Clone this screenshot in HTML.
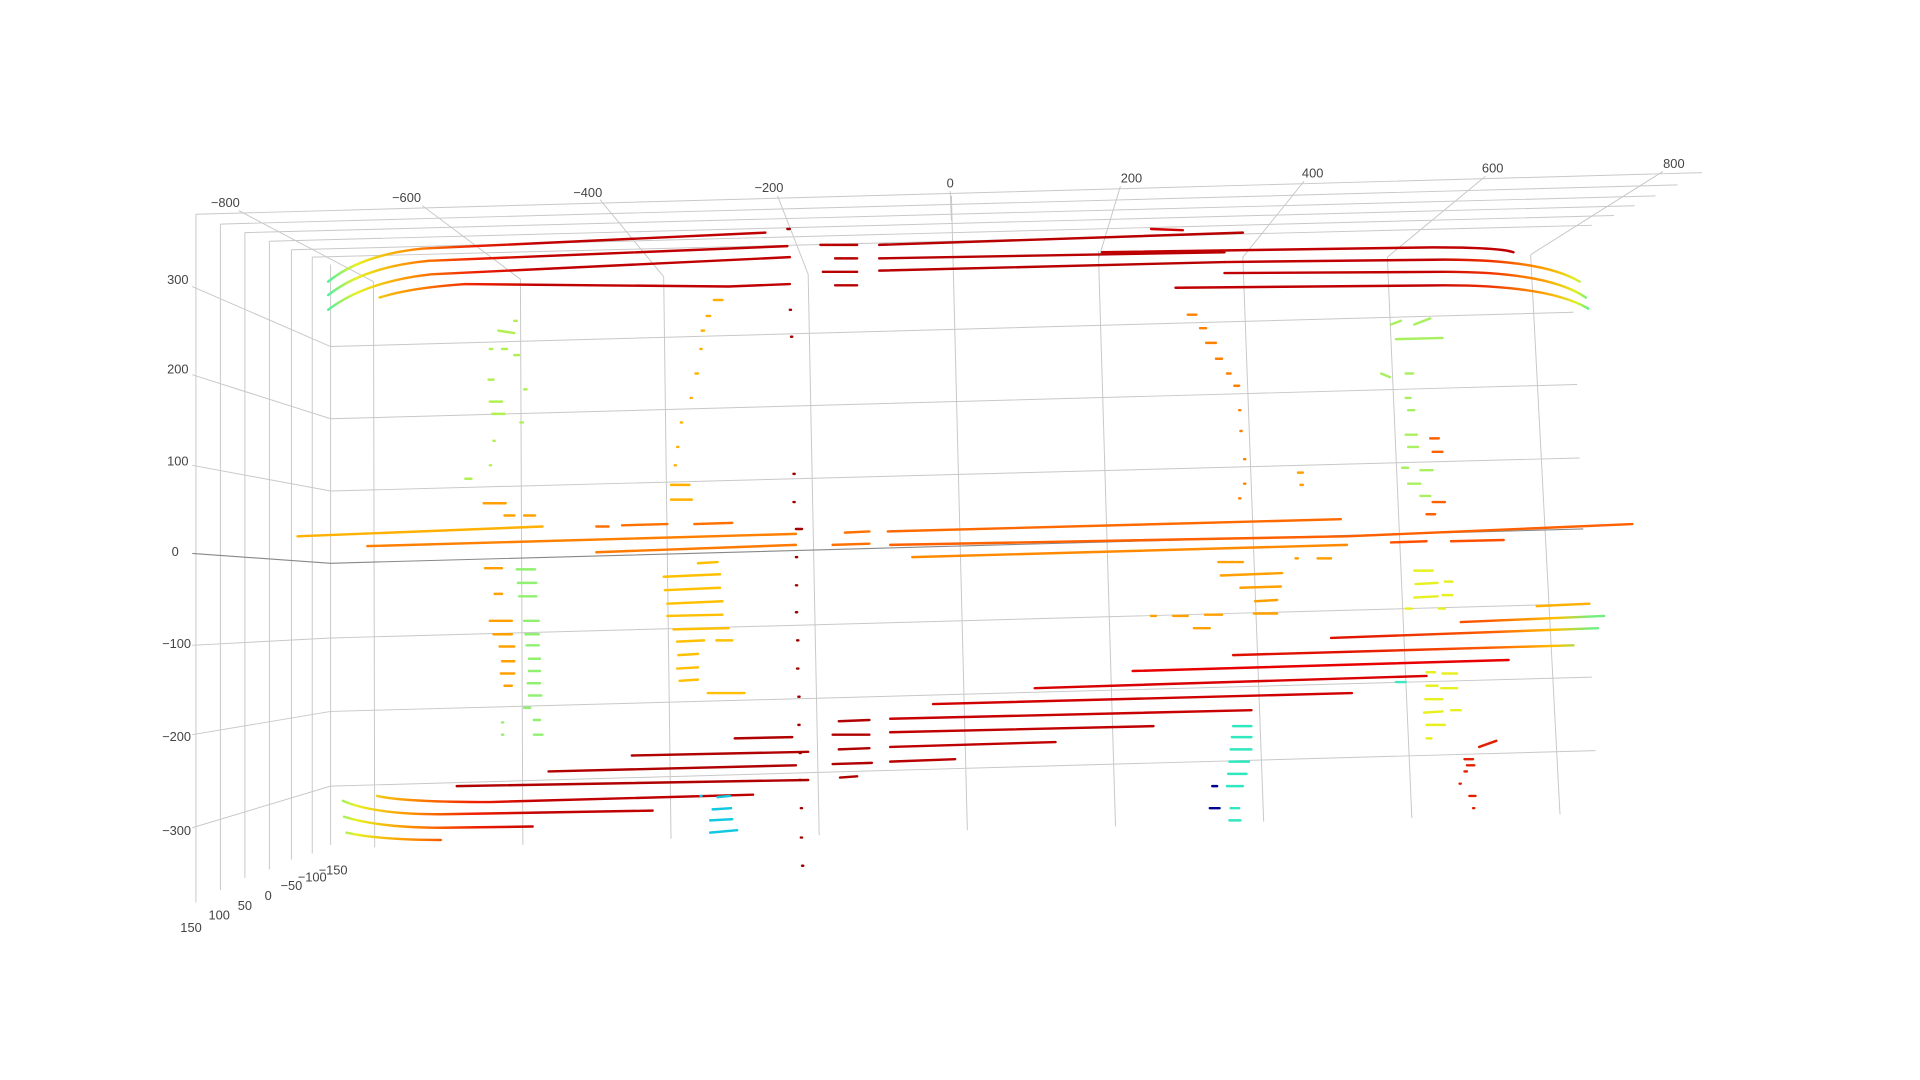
<!DOCTYPE html>
<html><head><meta charset="utf-8"><style>
html,body{margin:0;padding:0;background:#fff;width:1920px;height:1080px;overflow:hidden}
svg{display:block}
text{font-family:"Liberation Sans","DejaVu Sans",sans-serif;font-size:10.5px;fill:#444}
</style></head><body>
<svg width="1920" height="1080" viewBox="0 0 1568 882" preserveAspectRatio="none">
<defs>
<linearGradient id="gL" gradientUnits="userSpaceOnUse" x1="265" y1="0" x2="440" y2="0">
<stop offset="0" stop-color="#40f0b0"/><stop offset="0.15" stop-color="#e8f020"/><stop offset="0.4" stop-color="#ff9000"/><stop offset="0.7" stop-color="#f02000"/><stop offset="1" stop-color="#c00000"/></linearGradient>
<linearGradient id="gR" gradientUnits="userSpaceOnUse" x1="1170" y1="0" x2="1300" y2="0">
<stop offset="0" stop-color="#c00000"/><stop offset="0.35" stop-color="#f03000"/><stop offset="0.7" stop-color="#ffa000"/><stop offset="0.9" stop-color="#e0f020"/><stop offset="1" stop-color="#40f0a0"/></linearGradient>
<linearGradient id="gR2" gradientUnits="userSpaceOnUse" x1="1100" y1="0" x2="1300" y2="0">
<stop offset="0" stop-color="#e01000"/><stop offset="0.6" stop-color="#ff6000"/><stop offset="0.85" stop-color="#ffc000"/><stop offset="1" stop-color="#70f080"/></linearGradient>
</defs>
<!-- grid -->
<g stroke="#c8c8c8" stroke-width="0.8" fill="none">
<path d="M160,175 L1390,141 M180,183 L1370,151 M200,190 L1352,160 M220,197 L1335,168 M238,204 L1318,176 M255,210 L1300,184"/>
<path d="M160,175 V737 M180,183 V727 M200,190 V717 M220,197 V710 M238,204 V702 M255,210 V697 M270,216 V690"/>
<path d="M270,283 L1285,255 M270,342 L1288,314 M270,401 L1290,374 M270,521 L1297,493 M270,581 L1300,553 M270,642 L1303,613"/>
<path d="M157,234 L270,283 M157,306 L270,342 M157,380 L270,401 M157,527 L270,521 M157,600 L270,581 M157,676 L270,642"/>
<path d="M305,230 L306,692 M425,228 L427,690 M542,226 L548,685 M660,224 L669,682 M777,160 L790,678 M897,205 L911,675 M1015,210 L1032,671 M1133,210 L1153,668 M1250,208 L1274,665"/>
<path d="M195,172 L305,230 M345,168 L425,228 M490,163 L542,226 M635,160 L660,224 M776,156 L777,180 M915,152 L897,212 M1065,148 L1015,210 M1213,144 L1133,210 M1358,140 L1250,208"/>
</g>
<path d="M157,452 L270,460 L1293,432" stroke="#888" stroke-width="0.9" fill="none"/>
<!-- labels -->
<g text-anchor="middle">
<text x="184" y="169">−800</text><text x="332" y="165">−600</text><text x="480" y="161">−400</text><text x="628" y="157">−200</text><text x="776" y="153">0</text><text x="924" y="149">200</text><text x="1072" y="145">400</text><text x="1219" y="141">600</text><text x="1367" y="137">800</text>
</g>
<g text-anchor="end">
<text x="154" y="232">300</text><text x="154" y="305">200</text><text x="154" y="380">100</text><text x="146" y="454">0</text><text x="156" y="529">−100</text><text x="156" y="605">−200</text><text x="156" y="682">−300</text>
</g>
<g text-anchor="middle">
<text x="156" y="761">150</text><text x="179" y="751">100</text><text x="200" y="743">50</text><text x="219" y="735">0</text><text x="238" y="727">−50</text><text x="255" y="720">−100</text><text x="272" y="714">−150</text>
</g>
<!-- top curves -->
<g fill="none" stroke-width="2" stroke-linecap="round">
<path d="M268,230 Q295,208 345,203 L625,190" stroke="url(#gL)"/>
<path d="M268,241 Q297,218 350,213 L643,201" stroke="url(#gL)"/>
<path d="M268,253 Q298,230 352,224 L645,210" stroke="url(#gL)"/>
<path d="M310,243 Q335,235 380,232 L595,234 L645,232" stroke="url(#gL)"/>
<path d="M670,200 L700,200 M718,200 L1015,190 M682,211 L700,211 M718,211 L1000,206 M672,222 L700,222 M718,221 L1000,214 M682,233 L700,233" stroke="#b80000"/>
<path d="M940,187 L966,188" stroke="#d00000"/>
<path d="M900,206 L1170,202 Q1225,202 1236,206" stroke="#c00000"/>
<path d="M1000,214 L1180,212 Q1260,212 1290,230" stroke="url(#gR)"/>
<path d="M1000,223 L1180,222 Q1265,222 1295,243" stroke="url(#gR)"/>
<path d="M960,235 L1180,233 Q1265,233 1297,252" stroke="url(#gR)"/>
</g>
<!-- middle orange -->
<g fill="none" stroke-width="2" stroke-linecap="round">
<path d="M243,438 L443,430" stroke="#ffb000"/>
<path d="M300,446 L650,436" stroke="#ff8000"/>
<path d="M487,451 L650,445" stroke="#ff7a00"/>
<path d="M725,434 L1095,424" stroke="#ff6a00"/>
<path d="M745,455 L1100,445" stroke="#ff8a00"/>
<path d="M680,445 L710,444 M690,435 L710,434 M487,430 L497,430 M508,429 L545,428 M567,428 L598,427" stroke="#ff7000"/>
<path d="M727,445 L1100,438 L1333,428" stroke="#ff6000"/>
<path d="M1136,443 L1165,442 M1185,442 L1228,441" stroke="#ff5000"/>
</g>
<!-- bottom red -->
<g fill="none" stroke-width="2" stroke-linecap="round">
<path d="M1255,495 L1298,493" stroke="#ffb000"/>
<path d="M1193,508 L1310,503" stroke="url(#gR2)"/>
<path d="M1087,521 L1305,513" stroke="url(#gR2)"/>
<path d="M1007,535 L1285,527" stroke="url(#gR2)"/>
<path d="M925,548 L1232,539" stroke="#e80000"/>
<path d="M845,562 L1165,552" stroke="#d80000"/>
<path d="M762,575 L1104,566" stroke="#d00000"/>
<path d="M727,587 L1022,580" stroke="#c80000"/>
<path d="M727,598 L942,593" stroke="#c00000"/>
<path d="M727,610 L862,606" stroke="#c00000"/>
<path d="M727,622 L780,620" stroke="#b80000"/>
<path d="M685,589 L710,588 M680,600 L710,600 M685,612 L710,611 M680,624 L712,623 M686,635 L700,634" stroke="#b00000"/>
<path d="M600,603 L647,602 M516,617 L660,614 M448,630 L650,625 M373,642 L660,637" stroke="#b00000"/>
<path d="M308,650 Q330,655 400,655 L615,649" stroke="url(#gL)"/>
<path d="M280,654 Q305,665 360,665 L533,662" stroke="url(#gL)"/>
<path d="M281,667 Q310,676 360,676 L435,675" stroke="url(#gL)"/>
<path d="M283,680 Q310,686 360,686" stroke="url(#gL)"/>
</g>
<!-- scattered points -->
<g fill="none" stroke-width="2" stroke-linecap="round">
<path d="M407,270 L420,272 M420,262 L422,262 M400,285 L402,285 M410,285 L414,285 M420,290 L424,290 M399,310 L403,310 M400,328 L410,328 M402,338 L412,338 M425,345 L427,345 M403,360 L404,360 M400,380 L401,380 M380,391 L385,391 M428,318 L430,318" stroke="#b0f050"/>
<path d="M395,411 L413,411 M412,421 L420,421 M428,421 L437,421 M396,464 L410,464 M404,485 L410,485 M400,507 L418,507 M403,518 L418,518 M408,528 L420,528 M410,540 L420,540 M409,550 L420,550 M412,560 L418,560" stroke="#ffa000"/>
<path d="M422,465 L437,465 M423,476 L438,476 M424,487 L438,487 M428,507 L440,507 M429,518 L440,518 M430,527 L440,527 M432,538 L441,538 M432,548 L441,548 M431,558 L441,558 M432,568 L442,568 M428,578 L433,578 M436,588 L441,588 M436,600 L443,600 M410,590 L411,590 M410,600 L411,600" stroke="#90f070"/>
<path d="M548,396 L563,396 M548,408 L565,408 M573,270 L575,270 M583,245 L590,245 M577,258 L580,258 M572,285 L573,285 M568,305 L570,305 M564,325 L565,325 M556,345 L557,345 M553,365 L554,365 M551,380 L552,380" stroke="#ffb000"/>
<path d="M542,471 L588,469 M543,482 L588,480 M545,493 L590,491 M545,503 L590,502 M550,514 L595,513 M553,524 L575,523 M585,523 L598,523 M554,535 L570,534 M553,546 L570,545 M555,556 L570,555 M578,566 L608,566 M570,460 L586,459" stroke="#ffc000"/>
<path d="M586,651 L596,650 M582,661 L597,660 M580,670 L598,669 M580,680 L602,678 M572,650 L573,650" stroke="#10c8e0"/>
<path d="M643,187 L645,187 M645,253 L646,253 M646,275 L647,275 M648,387 L649,387 M648,410 L649,410 M650,432 L655,432 M650,455 L651,455 M650,478 L651,478 M650,500 L651,500 M651,523 L652,523 M651,546 L652,546 M652,569 L653,569 M652,592 L653,592 M653,615 L654,615 M653,637 L654,637 M654,660 L655,660 M654,684 L655,684 M655,707 L656,707" stroke="#a00000"/>
<path d="M970,257 L977,257 M980,268 L985,268 M985,280 L993,280 M993,293 L998,293 M1002,305 L1005,305 M1008,315 L1012,315 M1012,335 L1013,335 M1013,352 L1014,352 M1016,375 L1017,375 M1016,395 L1017,395 M1012,407 L1013,407" stroke="#ff8000"/>
<path d="M995,459 L1015,459 M997,470 L1047,468 M1013,480 L1046,479 M1025,491 L1043,490 M1024,501 L1043,501 M940,503 L944,503 M958,503 L970,503 M984,502 L998,502 M975,513 L988,513 M1060,386 L1064,386 M1062,396 L1064,396 M1058,456 L1060,456 M1076,456 L1087,456" stroke="#ffa000"/>
<path d="M1007,593 L1022,593 M1006,602 L1022,602 M1005,612 L1022,612 M1004,622 L1020,622 M1003,632 L1018,632 M1002,642 L1015,642 M1005,660 L1012,660 M1004,670 L1013,670" stroke="#30e8c0"/>
<path d="M988,660 L996,660 M990,642 L994,642" stroke="#000090"/>
<path d="M1136,265 L1144,262 M1155,265 L1168,260 M1140,277 L1178,276 M1128,305 L1135,308 M1148,305 L1154,305 M1148,325 L1152,325 M1150,335 L1155,335 M1148,355 L1157,355 M1150,365 L1158,365 M1145,382 L1150,382 M1160,384 L1170,384 M1150,395 L1160,395 M1160,405 L1168,405" stroke="#a8f060"/>
<path d="M1168,358 L1175,358 M1170,369 L1178,369 M1170,410 L1180,410 M1165,420 L1172,420" stroke="#ff6000"/>
<path d="M1155,466 L1170,466 M1156,477 L1174,476 M1155,488 L1174,487 M1180,475 L1186,475 M1178,486 L1186,486 M1148,497 L1153,497 M1175,497 L1180,497 M1165,549 L1172,549 M1178,550 L1190,550 M1165,560 L1174,560 M1177,562 L1190,562 M1164,571 L1178,571 M1163,582 L1178,581 M1165,592 L1180,592 M1165,603 L1169,603 M1185,580 L1193,580" stroke="#e8f020"/>
<path d="M1208,610 L1222,605 M1196,620 L1203,620 M1196,630 L1198,630 M1192,640 L1193,640 M1200,650 L1205,650 M1203,660 L1204,660 M1198,625 L1204,625" stroke="#e02000"/>
<path d="M1140,557 L1148,557" stroke="#40e8c0"/>
</g>
</svg>
</body></html>
